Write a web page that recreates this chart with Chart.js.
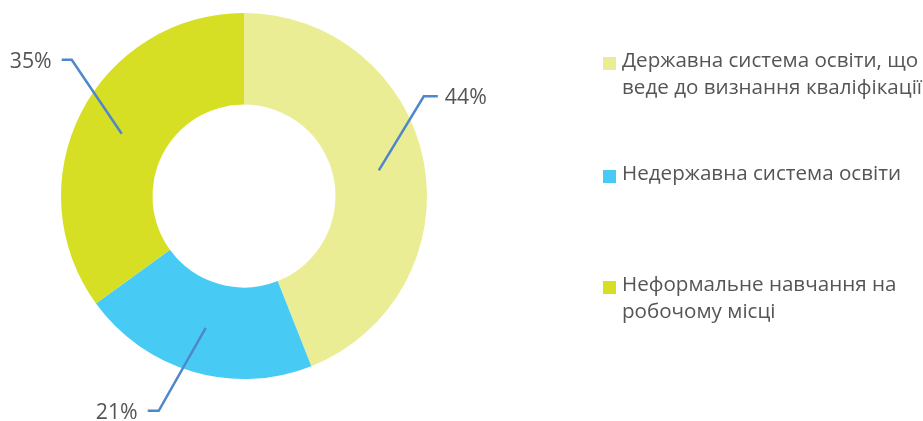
<!DOCTYPE html>
<html lang="uk">
<head>
<meta charset="utf-8">
<script src="https://cdn.jsdelivr.net/npm/chart.js@4/dist/chart.umd.min.js"></script>
<style>
  html, body { margin: 0; padding: 0; background: #ffffff; overflow: hidden; }
  #wrap { position: relative; width: 923px; height: 421px; }
  #chart { position: absolute; left: 0; top: 0; }
  .legend { position: absolute; left: 603px; top: 0; font-family: "Open Sans", sans-serif;
            font-size: 20.6px; line-height: 27px; color: #555555; white-space: nowrap; }
  .legend .item { position: absolute; left: 0; }
  .legend .box { position: absolute; left: 0; width: 13px; height: 13px; }
  .legend .txt { position: absolute; left: 19px; top: 0; }
</style>
</head>
<body>
<div id="wrap">
  <canvas id="chart" width="923" height="421"></canvas>
  <div class="legend" id="legend"></div>
</div>
<script>
// Sources of qualification
const categories = [
  ['Державна система освіти, що', 'веде до визнання кваліфікації'],
  ['Недержавна система освіти'],
  ['Неформальне навчання на', 'робочому місці']
];
const shares = [44, 21, 35];
const valueLabels = ['44%', '21%', '35%'];
const sliceColors = ['#EAED93', '#47CBF5', '#D6DF24'];

// Leader-line elbows: offset from the slice's mid point, then a short horizontal arm
const leaderStyle = [
  { dx: 45, dy: -74, arm: 14 },
  { dx: -47, dy: 83, arm: -11 },
  { dx: -50, dy: -74, arm: -10 }
];

const leaderLabels = {
  id: 'leaderLabels',
  afterDatasetsDraw(chart) {
    const ctx = chart.ctx;
    const meta = chart.getDatasetMeta(0);
    ctx.save();
    ctx.strokeStyle = '#4F88CA';
    ctx.lineWidth = 2.5;
    ctx.lineJoin = 'miter';
    ctx.font = '21.3px "Open Sans", sans-serif';
    ctx.fillStyle = '#555555';
    ctx.textBaseline = 'middle';
    meta.data.forEach((arc, i) => {
      const p = arc.tooltipPosition();
      const s = leaderStyle[i];
      const ex = p.x + s.dx, ey = p.y + s.dy;
      const hx = ex + s.arm;
      ctx.beginPath();
      ctx.moveTo(p.x, p.y);
      ctx.lineTo(ex, ey);
      ctx.lineTo(hx, ey);
      ctx.stroke();
      const right = s.arm > 0;
      ctx.textAlign = right ? 'left' : 'right';
      ctx.fillText(valueLabels[i], hx + (right ? 7 : -10), ey + 2);
    });
    ctx.restore();
  }
};

new Chart(document.getElementById('chart'), {
  type: 'doughnut',
  data: {
    labels: categories.map(l => l.join(' ')),
    datasets: [{
      data: shares,
      backgroundColor: sliceColors,
      borderWidth: 0,
      hoverOffset: 0
    }]
  },
  options: {
    responsive: false,
    animation: false,
    cutout: '50%',
    layout: { padding: { left: 61, right: 496, top: 13, bottom: 42 } },
    plugins: {
      legend: { display: false },
      tooltip: { enabled: false }
    }
  },
  plugins: [leaderLabels]
});

// Legend to the right of the ring
const legendTops = [46, 159, 270];
const legend = document.getElementById('legend');
categories.forEach((lines, i) => {
  const item = document.createElement('div');
  item.className = 'item';
  item.style.top = legendTops[i] + 'px';
  const box = document.createElement('div');
  box.className = 'box';
  box.style.background = sliceColors[i];
  box.style.top = '11px';
  const txt = document.createElement('div');
  txt.className = 'txt';
  txt.innerHTML = lines.join('<br>');
  item.appendChild(box);
  item.appendChild(txt);
  legend.appendChild(item);
});
</script>
</body>
</html>
